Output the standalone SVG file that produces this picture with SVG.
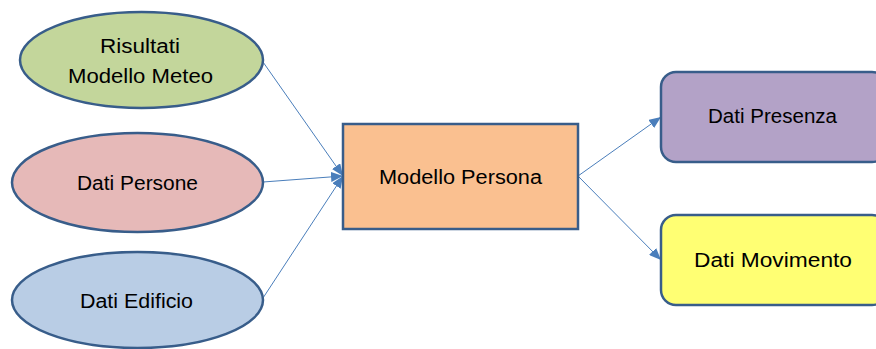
<svg xmlns="http://www.w3.org/2000/svg" width="876" height="349" viewBox="0 0 876 349">
  <defs>
    <marker id="arrow" viewBox="0 0 12 10" refX="12" refY="5" markerWidth="12" markerHeight="10" markerUnits="userSpaceOnUse" orient="auto">
      <path d="M0,0 L12,5 L0,10 Z" fill="#4a7ebb"/>
    </marker>
  </defs>
  <style>
    .shape { stroke: #385d8a; stroke-width: 2.5; }
    .label { font-family: "Liberation Sans", Arial, sans-serif; font-size: 20px; fill: #000; text-anchor: middle; }
    .link { stroke: #4a7ebb; stroke-width: 1; fill: none; marker-end: url(#arrow); }
  </style>
  <rect width="876" height="349" fill="#ffffff"/>

  <g id="connectors">
    <line class="link" x1="263" y1="62" x2="343" y2="176"/>
    <line class="link" x1="263" y1="182" x2="343" y2="176"/>
    <line class="link" x1="263" y1="298" x2="343" y2="176"/>
    <line class="link" x1="578" y1="176" x2="661" y2="117"/>
    <line class="link" x1="578" y1="176" x2="661" y2="260"/>
  </g>

  <g id="risultati-modello-meteo">
    <ellipse class="shape" cx="141.5" cy="60" rx="121.5" ry="48" fill="#c3d69b"/>
    <text class="label" x="140" y="53" textLength="80" lengthAdjust="spacingAndGlyphs">Risultati</text>
    <text class="label" x="140.5" y="83" textLength="145" lengthAdjust="spacingAndGlyphs">Modello Meteo</text>
  </g>

  <g id="dati-persone">
    <ellipse class="shape" cx="137.5" cy="182.5" rx="125.5" ry="49.5" fill="#e6b9b8"/>
    <text class="label" x="137.5" y="190" textLength="121" lengthAdjust="spacingAndGlyphs">Dati Persone</text>
  </g>

  <g id="dati-edificio">
    <ellipse class="shape" cx="137.5" cy="300" rx="125.5" ry="48" fill="#b9cde5"/>
    <text class="label" x="136.5" y="308" textLength="113" lengthAdjust="spacingAndGlyphs">Dati Edificio</text>
  </g>

  <g id="modello-persona">
    <rect class="shape" x="343" y="124" width="235" height="105" fill="#fac090"/>
    <text class="label" x="460.5" y="184" textLength="163" lengthAdjust="spacingAndGlyphs">Modello Persona</text>
  </g>

  <g id="dati-presenza">
    <rect class="shape" x="661" y="72" width="226" height="90" rx="15" ry="15" fill="#b3a2c7"/>
    <text class="label" x="772.5" y="123" textLength="129" lengthAdjust="spacingAndGlyphs">Dati Presenza</text>
  </g>

  <g id="dati-movimento">
    <rect class="shape" x="661" y="215" width="226" height="90" rx="15" ry="15" fill="#ffff73"/>
    <text class="label" x="773" y="267" textLength="158" lengthAdjust="spacingAndGlyphs">Dati Movimento</text>
  </g>
</svg>
